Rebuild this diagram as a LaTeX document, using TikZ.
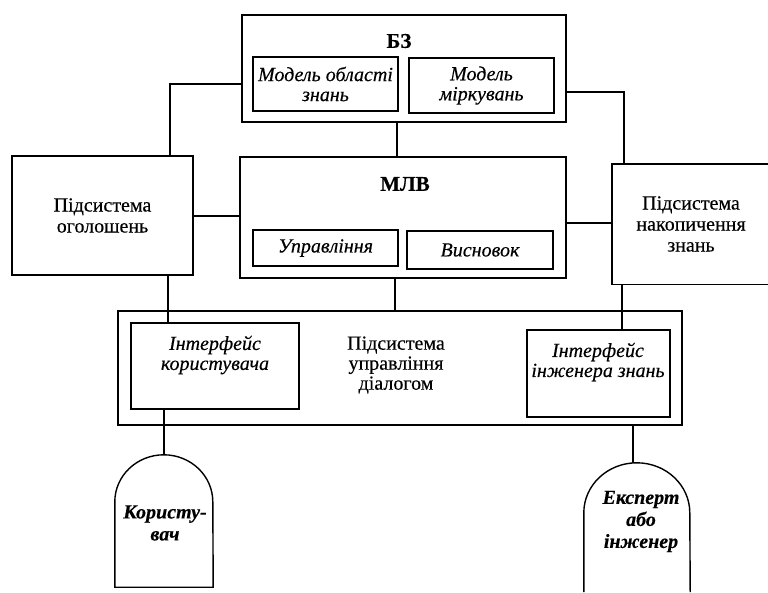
\documentclass[tikz,border=0pt]{standalone}
\usepackage{fontspec}
\setmainfont{Liberation Serif}[FakeBold=0.35]
\begin{document}
\begin{tikzpicture}[x=1pt,y=-1pt,
  box/.style={draw, line width=1.4pt, inner sep=0pt, anchor=center},
  txt/.style={align=center, inner sep=0pt, font=\fontsize{20}{21}\selectfont},
  itxt/.style={align=center, inner sep=0pt, font=\fontsize{20}{20}\selectfont\itshape},
  btxt/.style={align=center, inner sep=0pt, font=\fontsize{21}{21}\selectfont\bfseries},
  bitxt/.style={align=center, inner sep=0pt, font=\fontsize{20}{22}\selectfont\bfseries\itshape},
  wire/.style={line width=1.3pt}]
\useasboundingbox (0,0) rectangle (768,592);

% knowledge base
\node[box, minimum width=324pt, minimum height=107pt] (bz) at (404,68.5) {};
\node[btxt] (bzt) at (399,41) {БЗ};
\node[box, itxt, minimum width=145pt, minimum height=54pt] (bz1) at (325.5,84) {Модель області\\знань};
\node[box, itxt, minimum width=145pt, minimum height=55pt] (bz2) at (481.5,85.5) {Модель\\міркувань};

% MLV
\node[box, minimum width=326pt, minimum height=121pt] (mlv) at (403,217.5) {};
\node[btxt] (mlvt) at (405,184) {МЛВ};
\node[box, itxt, minimum width=145pt, minimum height=36pt] (mlv1) at (325.5,248) {Управління};
\node[box, itxt, minimum width=146pt, minimum height=38pt] (mlv2) at (480,250) {Висновок};

% side subsystems
\node[box, txt, minimum width=181pt, minimum height=119pt] (ogol) at (102.5,215.5) {Підсистема\\оголошень};
\node[txt, minimum width=158pt, minimum height=120pt] (nakop) at (691,224) {Підсистема\\накопичення\\знань};
\draw[line width=1.4pt] (nakop.north east) -- (nakop.north west) -- (nakop.south west) -- (nakop.south east);

% dialogue subsystem
\node[box, minimum width=564pt, minimum height=114pt] (dial) at (400,368) {};
\node[txt, font=\fontsize{20}{20}\selectfont] (dialt) at (396,365) {Підсистема\\управління\\діалогом};
\node[box, minimum width=168pt, minimum height=86pt] (int1) at (215,366) {};
\node[itxt] (int1t) at (215,355) {Інтерфейс\\користувача};
\node[box, minimum width=143pt, minimum height=87pt] (int2) at (598.5,373.5) {};
\node[itxt] (int2t) at (598,362) {Інтерфейс\\інженера знань};

% users
\node[inner sep=0pt, minimum width=98pt, minimum height=132pt] (user) at (164,521) {};
\draw[line width=1.4pt] (user.south west) -- ([yshift=-47pt]user.north west)
  arc[start angle=180, end angle=0, x radius=49pt, y radius=47pt] -- (user.south east) -- cycle;
\node[bitxt] (usert) at (165,523) {Користу-\\вач};

\node[inner sep=0pt, minimum width=106pt, minimum height=129pt] (expert) at (637,527.5) {};
\draw[line width=1.4pt] (expert.south west) -- ([yshift=-50pt]expert.north west)
  arc[start angle=180, end angle=0, x radius=53pt, y radius=50pt] -- (expert.south east);
\node[bitxt] (expertt) at (641,521.5) {Експерт\\або\\інженер};

% connector guide coordinates
\coordinate (cL) at (170,84);
\coordinate (cR) at (624,92);
\coordinate (cBM) at (397,0);
\coordinate (cOM) at (0,216);
\coordinate (cMN) at (0,223);
\coordinate (cMD) at (395,0);
\coordinate (cOI) at (168,0);
\coordinate (cNI) at (622,0);
\coordinate (cDE) at (633,0);

\draw[wire] (bz.west |- cL) -| (ogol.north -| cL);
\draw[wire] (bz.east |- cR) -| (nakop.north -| cR);
\draw[wire] (bz.south -| cBM) -- (mlv.north -| cBM);
\draw[wire] (ogol.east |- cOM) -- (mlv.west |- cOM);
\draw[wire] (mlv.east |- cMN) -- (nakop.west |- cMN);
\draw[wire] (mlv.south -| cMD) -- (dial.north -| cMD);
\draw[wire] (ogol.south -| cOI) -- (int1.north -| cOI);
\draw[wire] (nakop.south -| cNI) -- (int2.north -| cNI);
\draw[wire] (user.north) -- (user.north |- int1.south);
\draw[wire] (dial.south -| cDE) -- (expert.north -| cDE);
\end{tikzpicture}
\end{document}
